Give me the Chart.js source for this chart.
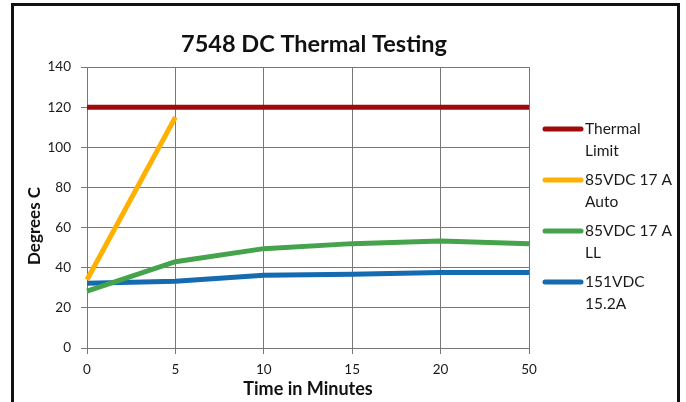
<!DOCTYPE html>
<html>
<head>
<meta charset="utf-8">
<script src="https://cdn.jsdelivr.net/npm/chart.js@4"></script>
<style>
	html, body { margin: 0; padding: 0; background: #fff; }
	#wrap { position: relative; width: 686px; height: 402px; overflow: hidden; }
	#frame { position: absolute; left: 11px; top: 3px; width: 663px; height: 420px; border: 3px solid #111; border-bottom: none; }
	canvas { position: absolute; left: 0; top: 0; }
</style>
</head>
<body>
<div id="wrap">
	<canvas id="thermalChart" width="686" height="402"></canvas>
	<div id="frame"></div>
</div>
<script>
	const minutes = ['0', '5', '10', '15', '20', '50'];
	const thermalLimit = [120, 120, 120, 120, 120, 120];
	const auto85 = [34, 115, null, null, null, null];
	const ll85 = [28.3, 43, 49.5, 52, 53.3, 52];
	const dc151 = [32.2, 33.3, 36.2, 36.8, 37.6, 37.6];
	const seriesNames = ['Thermal Limit', '85VDC 17 A Auto', '85VDC 17 A LL', '151VDC 15.2A'];
	const legendLines = [['Thermal', 'Limit'], ['85VDC 17 A', 'Auto'], ['85VDC 17 A', 'LL'], ['151VDC', '15.2A']];
	const yTicks = [0, 20, 40, 60, 80, 100, 120, 140];
	const chartTitle = '7548 DC Thermal Testing';
	const yTitle = 'Degrees C';
	const xTitle = 'Time in Minutes';

	const FONT = 'Lato, "Open Sans", sans-serif';
	const colors = ['#a00a0a', '#ffb000', '#45a34b', '#156bb0'];

	// title, y title and the wrapped legend are drawn by hand
	const extras = {
		id: 'extras',
		afterDraw(chart) {
			const ctx = chart.ctx;
			const area = chart.chartArea;
			ctx.save();

			ctx.fillStyle = '#111';
			ctx.textAlign = 'center';
			ctx.textBaseline = 'middle';
			ctx.font = 'bold 23.5px ' + FONT;
			ctx.fillText(chartTitle, 314, 44);

			ctx.save();
			ctx.translate(35, 226);
			ctx.rotate(-Math.PI / 2);
			ctx.font = 'bold 17px ' + FONT;
			ctx.fillText(yTitle, 0, 0);
			ctx.restore();

			ctx.textAlign = 'left';
			ctx.font = '15.5px ' + FONT;
			ctx.fillStyle = '#1a1a1a';
			chart.data.datasets.forEach(function(ds, i) {
				const y = 129 + i * 51;
				ctx.strokeStyle = ds.borderColor;
				ctx.lineWidth = 5;
				ctx.lineCap = 'round';
				ctx.beginPath();
				ctx.moveTo(area.right + 16, y);
				ctx.lineTo(area.right + 52, y);
				ctx.stroke();
				legendLines[i].forEach(function(t, k) {
					ctx.fillText(t, area.right + 56, y + k * 22);
				});
			});
			ctx.restore();
		}
	};

	function makeSet(i, data) {
		return {
			label: seriesNames[i],
			data: data,
			borderColor: colors[i],
			backgroundColor: colors[i],
			borderWidth: 5,
			pointRadius: 0,
			tension: 0,
			spanGaps: false
		};
	}

	new Chart(document.getElementById('thermalChart'), {
		type: 'line',
		data: {
			labels: minutes,
			datasets: [
				makeSet(0, thermalLimit),
				makeSet(1, auto85),
				makeSet(2, ll85),
				makeSet(3, dc151)
			]
		},
		options: {
			responsive: false,
			animation: false,
			layout: { padding: { left: 0, right: 157, top: 67, bottom: 0 } },
			plugins: {
				legend: { display: false },
				tooltip: { enabled: false },
				title: { display: false }
			},
			scales: {
				x: {
					offset: false,
					grid: { color: '#777', lineWidth: 1, tickLength: 6 },
					border: { color: '#777' },
					ticks: { color: '#1a1a1a', font: { family: FONT, size: 13.5 }, padding: 8, maxRotation: 0 },
					title: {
						display: true,
						text: xTitle,
						color: '#111',
						font: { family: FONT, size: 18, weight: 'bold' },
						padding: { top: 0, bottom: 2 }
					},
					afterFit(scale) { scale.height = 54; }
				},
				y: {
					min: 0,
					max: 140,
					afterBuildTicks(scale) { scale.ticks = yTicks.map(function(v) { return { value: v }; }); },
					grid: { color: '#777', lineWidth: 1, tickLength: 6 },
					border: { color: '#777' },
					ticks: { color: '#1a1a1a', font: { family: FONT, size: 13.5 }, padding: 10 },
					afterFit(scale) { scale.width = 87; }
				}
			}
		},
		plugins: [extras]
	});
</script>
</body>
</html>
